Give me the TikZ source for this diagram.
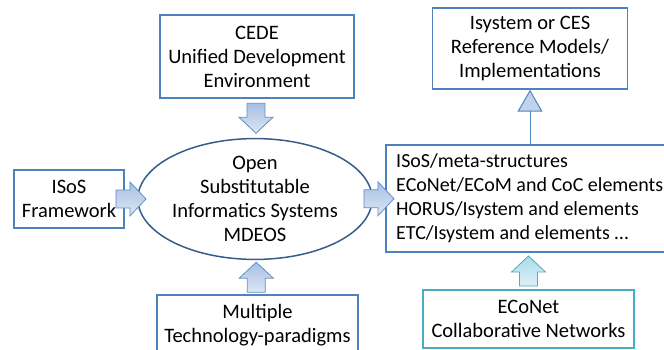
\documentclass[tikz,border=0pt]{standalone}
\usepackage{fontspec}
\setmainfont{Carlito}
\usetikzlibrary{arrows.meta,calc,shapes.geometric}
\definecolor{boxline}{HTML}{4F81BD}
\definecolor{ovalline}{HTML}{385D8A}
\definecolor{cyanline}{HTML}{4BACC6}
\definecolor{arrowtop}{HTML}{A7C0E3}
\definecolor{arrowbot}{HTML}{DCE6F4}
\definecolor{cyantop}{HTML}{A9DCEA}
\definecolor{cyanbot}{HTML}{DDF1F6}
\tikzset{
	box/.style={draw=boxline, line width=1.5pt, rectangle, align=center, inner sep=0pt},
	bluefat/.style={draw=boxline!90, line width=0.8pt, shading=axis, top color=arrowtop, bottom color=arrowbot},
	cyanfat/.style={draw=cyanline, line width=0.8pt, shading=axis, top color=cyantop, bottom color=cyanbot}
}
% block arrow centred at #2, pointing at angle #3
\def\fatarrow[#1](#2)(#3){\draw[#1, shift={(#2)}, rotate=#3] (-15,-9) -- (-1,-9) -- (-1,-17) -- (15,0) -- (-1,17) -- (-1,9) -- (-15,9) -- cycle;}

\begin{document}
\begin{tikzpicture}[x=1pt, y=-1pt, font=\fontsize{20.5}{24}\selectfont]
			%%%%% START %%%%%
			\useasboundingbox (0,0) rectangle (664,350);
			
			\node[box, minimum width=194pt, minimum height=83pt] (cede) at (257, 56.5) {CEDE\\Unified Development\\Environment};
			\node[box, minimum width=110pt, minimum height=58pt] (isos) at (69, 199) {ISoS\\Framework};
			\node[draw=ovalline, line width=1.5pt, ellipse, inner sep=0pt, align=center,
				minimum width=176pt, minimum height=114pt] (mdeos) at (255, 199) {Open\\Substitutable\\Informatics Systems\\MDEOS};
			\node[box, minimum width=201pt, minimum height=60pt] (multi) at (257.5, 325) {Multiple\\Technology-paradigms};
			
			\node[box, minimum width=288pt, minimum height=107pt, align=left, inner xsep=8pt, font=\fontsize{20}{24}\selectfont,
				anchor=west] (elems) at (385, 198.5)
				{ISoS/meta-structures\\ECoNet/ECoM and CoC elements\\HORUS/Isystem and elements\\ETC/Isystem and elements \dots};
			\node[box, minimum width=195pt, minimum height=81pt] (refm) at (530, 48.5) {Isystem or CES\\Reference Models/\\Implementations};
			\node[box, draw=cyanline, minimum width=211pt, minimum height=58pt] (econet) at (528.5, 319) {ECoNet\\Collaborative Networks};
			
			% block arrows
			\coordinate (a1) at ($(cede.south)!0.5!(mdeos.north)$);
			\coordinate (a2) at ($(isos.east)!0.5!(mdeos.west)$);
			\coordinate (a3) at ($(multi.north)!0.5!(mdeos.south)$);
			\coordinate (a4) at ($(mdeos.east)!0.5!(elems.west)$);
			\coordinate (a5) at ($(econet.north)!0.5!(elems.south -| econet.north)$);
			\fatarrow[bluefat](a1)(-90);
			\fatarrow[bluefat](a2)(0);
			\fatarrow[bluefat](a3)(90);
			\fatarrow[bluefat](a4)(0);
			\fatarrow[cyanfat](a5)(90);
			
			\draw[boxline, line width=1pt, -{Triangle[length=22pt, width=25pt, fill=arrowtop!70, line width=1pt]}]
				(elems.north -| refm.south) -- (refm.south);
			
			%%%%% END %%%%%
		\end{tikzpicture}
\end{document}
